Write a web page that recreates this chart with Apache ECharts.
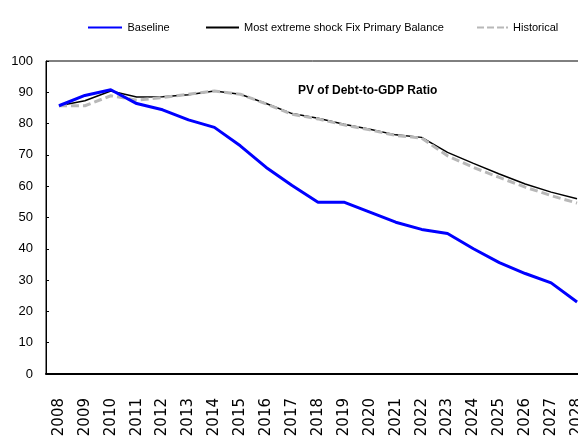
<!DOCTYPE html>
<html>
<head>
<meta charset="utf-8">
<script src="https://cdn.jsdelivr.net/npm/echarts@6/dist/echarts.min.js"></script>
<style>
  html, body { margin: 0; padding: 0; background: #fff; }
  #main { width: 578px; height: 443px; }
</style>
</head>
<body>
<div id="main"></div>
<script>
// 数据
var years = ['2008', '2009', '2010', '2011', '2012', '2013', '2014', '2015', '2016', '2017', '2018',
    '2019', '2020', '2021', '2022', '2023', '2024', '2025', '2026', '2027', '2028'];
var baseline = [85.7, 89.0, 90.8, 86.4, 84.4, 81.2, 78.8, 72.9, 66.0, 60.2, 54.9,
    54.9, 51.7, 48.5, 46.2, 44.9, 40.0, 35.6, 32.1, 29.1, 23.0];
var extremeShock = [85.7, 87.3, 90.4, 88.5, 88.6, 89.2, 90.4, 89.4, 86.4, 83.2, 81.7,
    79.8, 78.2, 76.4, 75.6, 70.8, 67.3, 63.9, 60.7, 58.1, 56.0];
var historical = [85.7, 85.7, 88.9, 87.5, 88.3, 89.4, 90.4, 89.4, 86.3, 83.0, 81.5,
    79.6, 78.0, 76.2, 75.4, 69.7, 66.0, 62.8, 59.7, 57.0, 54.6];
var yTicks = { min: 0, max: 100, interval: 10 };

var font = '"Liberation Sans", Arial, sans-serif';

var myChart = echarts.init(document.getElementById('main'));

var legendText = { fontFamily: font, fontSize: 11, color: '#000' };
// 图例图标（细线 / 虚线）
var solidIcon = 'path://M0,0h34v2h-34z';
var dashIcon = 'path://M0,0h7v2h-7z M10,0h7v2h-7z M20,0h7v2h-7z M29,0h2v2h-2z';

var option = {
    animation: false,
    backgroundColor: '#fff',
    title: {
        text: 'PV of Debt-to-GDP Ratio',
        left: 298,
        top: 85,
        padding: 0,
        textStyle: { fontFamily: font, fontSize: 12, fontWeight: 'bold', color: '#000' }
    },
    legend: [
        { data: [{ name: 'Baseline', icon: solidIcon }], left: 88, top: 22, padding: 0,
          itemWidth: 35, itemHeight: 2, textStyle: legendText },
        { data: [{ name: 'Most extreme shock Fix Primary Balance', icon: solidIcon }], left: 206, top: 22, padding: 0,
          itemWidth: 33, itemHeight: 2, textStyle: legendText },
        { data: [{ name: 'Historical', icon: dashIcon }], left: 477, top: 22, padding: 0,
          itemWidth: 31, itemHeight: 2, textStyle: legendText }
    ],
    grid: {
        left: 46,
        top: 61,
        bottom: 69,
        width: 544,
        outerBoundsMode: 'none',
        show: true,
        borderColor: '#000',
        borderWidth: 1,
        containLabel: false
    },
    xAxis: {
        type: 'category',
        data: years,
        boundaryGap: true,
        axisLine: { lineStyle: { color: '#000', width: 2 } },
        axisTick: { inside: true, length: 7, lineStyle: { color: '#000', width: 1 } },
        axisLabel: {
            rotate: 90,
            margin: 24,
            interval: 0,
            fontFamily: '"DejaVu Sans", sans-serif',
            fontSize: 15,
            color: '#000'
        },
        splitLine: { show: false }
    },
    yAxis: {
        type: 'value',
        min: yTicks.min,
        max: yTicks.max,
        interval: yTicks.interval,
        axisLine: { show: true, lineStyle: { color: '#000', width: 1 } },
        axisTick: { show: true, inside: true, length: 3, lineStyle: { color: '#000' } },
        axisLabel: { margin: 13, fontFamily: font, fontSize: 13, color: '#000' },
        splitLine: { show: false }
    },
    series: [
        {
            name: 'Most extreme shock Fix Primary Balance',
            type: 'line',
            data: extremeShock,
            symbol: 'none',
            lineStyle: { color: '#000', width: 1.5 },
            itemStyle: { color: '#000' },
            z: 2
        },
        {
            name: 'Historical',
            type: 'line',
            data: historical,
            symbol: 'none',
            lineStyle: { color: '#b8b8b8', width: 3, type: [8, 4] },
            itemStyle: { color: '#b8b8b8' },
            z: 3
        },
        {
            name: 'Baseline',
            type: 'line',
            data: baseline,
            symbol: 'none',
            lineStyle: { color: '#0000ff', width: 3 },
            itemStyle: { color: '#0000ff' },
            z: 4
        }
    ]
};
myChart.setOption(option);
</script>
</body>
</html>
